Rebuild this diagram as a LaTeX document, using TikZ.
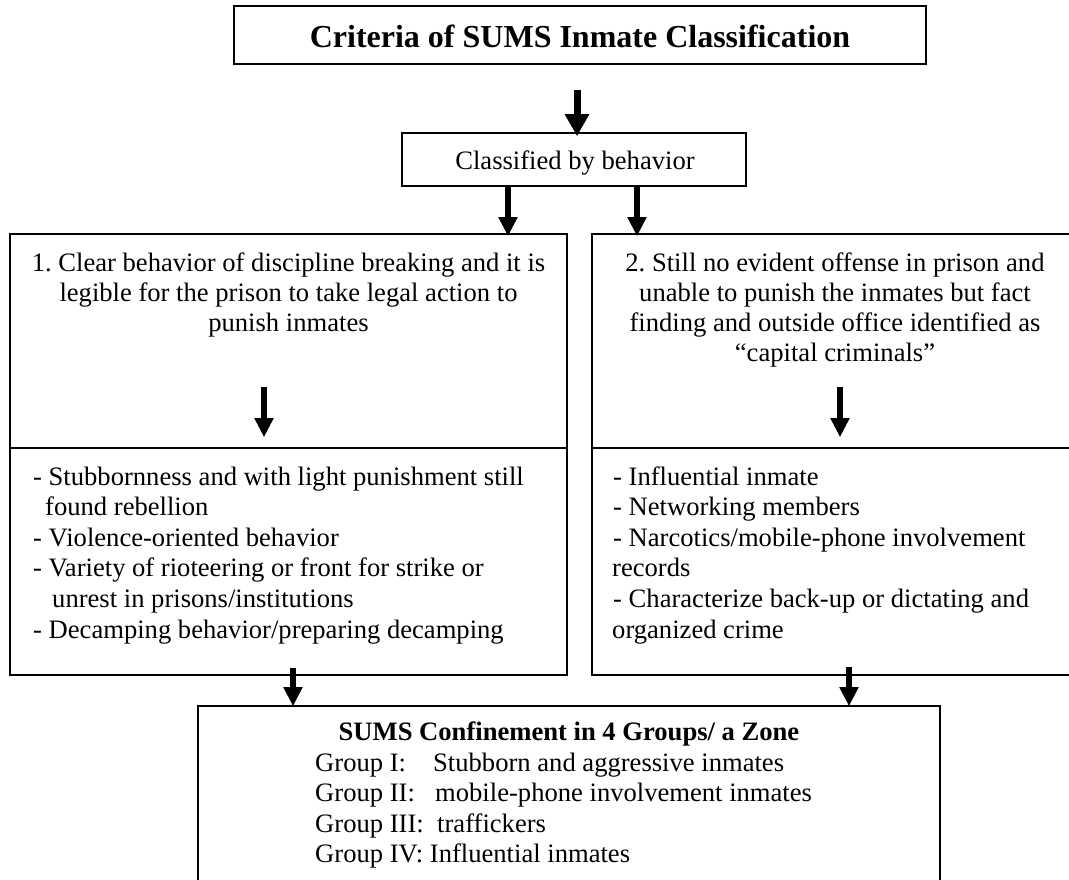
\documentclass[tikz,border=0pt]{standalone}
\usepackage{fontspec}
\setmainfont{Liberation Serif}
\usetikzlibrary{arrows.meta}
\frenchspacing
\newcommand{\bodyfont}{\fontsize{26.6}{30.6}\selectfont}
\newcommand{\headfont}{\fontsize{32}{36}\selectfont\bfseries}
\begin{document}
\begin{tikzpicture}[x=1pt,y=-1pt,
  box/.style={draw, line width=1.6pt, rectangle, inner sep=0pt},
  txt/.style={font=\bodyfont, inner sep=0pt, anchor=base},
  ltxt/.style={font=\bodyfont, inner sep=0pt, anchor=base west},
  bigarr/.style={line width=7pt, -{Triangle[width=23pt,length=22pt]}},
  arr/.style={line width=5.5pt, -{Triangle[width=18pt,length=19pt]}}]
\useasboundingbox (0,0) rectangle (1069,879);
\fill[white] (0,0) rectangle (1069,879);

% boxes
\node[box, line width=2.2pt, minimum width=692pt, minimum height=58pt] (title) at (580,35) {};
\node[box, minimum width=344pt, minimum height=53pt] (cls) at (574,159.5) {};
\node[box, minimum width=557pt, minimum height=214pt] (lup) at (288.5,341) {};
\node[box, minimum width=557pt, minimum height=227pt] (llo) at (288.5,561.5) {};
\node[box, minimum width=486pt, minimum height=214pt] (rup) at (835,341) {};
\node[box, minimum width=486pt, minimum height=227pt] (rlo) at (835,561.5) {};
\node[box, minimum width=742pt, minimum height=184pt] (sums) at (569,798) {};

% headings
\node[txt, font=\headfont] (ttl) at (580,47) {Criteria of SUMS Inmate Classification};
\node[txt] (clst) at (575,169) {Classified by behavior};

% first criterion
\node[txt] (la) at (288.5,271) {1. Clear behavior of discipline breaking and it is};
\node[txt] (lb) at (288.5,301) {legible for the prison to take legal action to};
\node[txt] (lc) at (288.5,331) {punish inmates};

% second criterion
\node[txt] (ra) at (835,271) {2. Still no evident offense in prison and};
\node[txt] (rb) at (835,301) {unable to punish the inmates but fact};
\node[txt] (rc) at (835,331) {finding and outside office identified as};
\node[txt] (rd) at (835,361) {“capital criminals”};

% behaviours of the first criterion
\node[ltxt] (l1) at (33,485) {- Stubbornness and with light punishment still};
\node[ltxt] (l2) at (45,515.5) {found rebellion};
\node[ltxt] (l3) at (33,546) {- Violence-oriented behavior};
\node[ltxt] (l4) at (33,576.5) {- Variety of rioteering or front for strike or};
\node[ltxt] (l5) at (52,607) {unrest in prisons/institutions};
\node[ltxt] (l6) at (33,638) {- Decamping behavior/preparing decamping};

% indicators of the second criterion
\node[ltxt] (r1) at (613,485) {- Influential inmate};
\node[ltxt] (r2) at (613,515.5) {- Networking members};
\node[ltxt] (r3) at (613,546) {- Narcotics/mobile-phone involvement};
\node[ltxt] (r4) at (612,576.5) {records};
\node[ltxt] (r5) at (613,607) {- Characterize back-up or dictating and};
\node[ltxt] (r6) at (612,638) {organized crime};

% confinement groups
\node[txt, font=\bodyfont\bfseries] (st) at (569,740) {SUMS Confinement in 4 Groups/ a Zone};
\node[ltxt] (g1) at (315,771) {Group I:};
\node[ltxt] (g1t) at (433,771) {Stubborn and aggressive inmates};
\node[ltxt] (g2) at (315,801.5) {Group II:};
\node[ltxt] (g2t) at (435,801.5) {mobile-phone involvement inmates};
\node[ltxt] (g3) at (315,832) {Group III:};
\node[ltxt] (g3t) at (437,832) {traffickers};
\node[ltxt] (g4) at (315,862.5) {Group IV: Influential inmates};

% columns of the connectors
\coordinate (c0) at (577,0);
\coordinate (c1) at (508,0);
\coordinate (c2) at (637,0);
\coordinate (c3) at (264,0);
\coordinate (c4) at (840,0);
\coordinate (c5) at (293,0);
\coordinate (c6) at (849,0);
\coordinate (m1) at (0,387);

% connectors
\draw[bigarr, shorten <=25pt, shorten >=-4pt] (title.south -| c0) -- (cls.north -| c0);
\draw[arr, shorten >=-3pt] (cls.south -| c1) -- (lup.north -| c1);
\draw[arr, shorten >=-3pt] (cls.south -| c2) -- (rup.north -| c2);
\draw[arr, shorten >=10pt] (m1 -| c3) -- (llo.north -| c3);
\draw[arr, shorten >=10pt] (m1 -| c4) -- (rlo.north -| c4);
\draw[arr, shorten <=-8pt, shorten >=-1pt] (llo.south -| c5) -- (sums.north -| c5);
\draw[arr, shorten <=-9pt, shorten >=-1pt] (rlo.south -| c6) -- (sums.north -| c6);
\end{tikzpicture}
\end{document}
